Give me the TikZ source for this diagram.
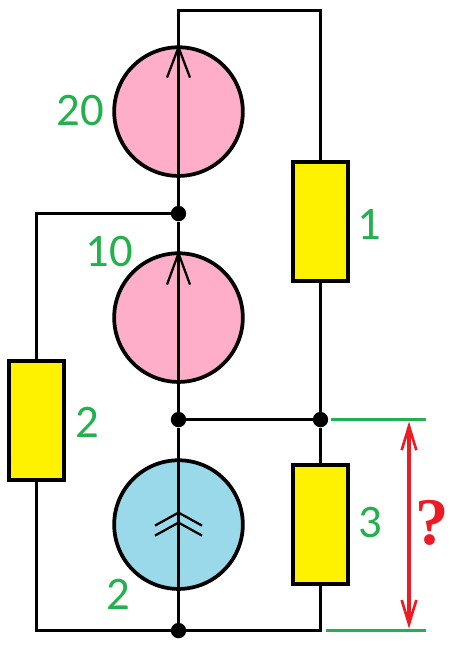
\documentclass[tikz,border=0pt]{standalone}
\usepackage{fontspec}
\setmainfont{Carlito}
\newfontfamily\qfont{Liberation Serif}
\usetikzlibrary{arrows.meta}
\definecolor{sourcepink}{RGB}{255,174,201}
\definecolor{sourceblue}{RGB}{153,217,234}
\definecolor{resyellow}{RGB}{255,242,0}
\definecolor{labelgreen}{RGB}{34,177,76}
\definecolor{askred}{RGB}{237,28,36}

\begin{document}
\begin{tikzpicture}[
    x=0.75pt, y=-0.75pt,
    wire/.style={line width=2.6pt},
    barb/.style={line width=1.7pt},
    source/.style={draw, line width=2.8pt, circle, minimum size=96.5pt, inner sep=0pt, outer sep=0pt},
    res/.style={draw, line width=2.8pt, fill=resyellow, minimum width=41.5pt, minimum height=89.5pt, inner sep=0pt, outer sep=0pt},
    dot/.style={circle, fill=black, minimum size=11.5pt, inner sep=0pt},
    val/.style={text=labelgreen, font=\fontsize{35}{35}\selectfont, inner sep=0pt}
]
    \useasboundingbox (0,-0.6) rectangle (453,647.4);

    % Sources
    \node[source, fill=sourcepink] (s1) at (178.5,111) {};
    \node[source, fill=sourcepink] (s2) at (178.5,317) {};
    \node[source, fill=sourceblue] (s3) at (178.5,524) {};

    % Resistors
    \node[res] (r1) at (320.5,221) {};
    \node[res] (r2) at (36.5,420) {};
    \node[res] (r3) at (320.5,524) {};

    % Junctions
    \node[dot] (j1) at (178.5,213) {};
    \node[dot] (j2) at (178.5,419) {};
    \node[dot] (j3) at (320.5,419) {};
    \node[dot] (j4) at (178.5,630) {};

    % Wires
    \draw[wire] (s1.north) -- (178.5,10) -| (r1.north);
    \draw[wire] (s1.north) -- (s1.south) -- (j1) -- (s2.north) -- (s2.south) -- (j2) -- (s3.north) -- (s3.south) -- (j4);
    \draw[wire] (r1.south) -- (j3) -- (r3.north);
    \draw[wire] (j2) -- (j3);
    \draw[wire] (j1) -| (r2.north);
    \draw[wire] (r2.south) |- (j4);
    \draw[wire] (r3.south) |- (j4);

    % Source arrows
    \draw[barb] (167,77) -- (s1.north) -- (190,77);
    \draw[barb] (167,284) -- (s2.north) -- (190,284);
    \draw[barb] (155,525) -- (178.5,512) -- (202,525);
    \draw[barb] (155,535) -- (178.5,522) -- (202,535);

    % Values
    \node[val] (v1) at (80,110) {20};
    \node[val] (v2) at (109,251) {10};
    \node[val] (v3) at (369,224) {1};
    \node[val] (v4) at (87,422) {2};
    \node[val] (v5) at (118,594) {2};
    \node[val] (v6) at (370,522) {3};

    % Measured voltage
    \coordinate (a1) at (331,419);
    \coordinate (a2) at (426,419);
    \coordinate (b1) at (326,630);
    \coordinate (b2) at (426,630);
    \coordinate (t1) at (409,421);
    \coordinate (t2) at (409,628);
    \draw[labelgreen, wire] (a1) -- (a2);
    \draw[labelgreen, wire] (b1) -- (b2);
    \draw[askred, wire, {Straight Barb[length=18pt,width=11pt,line width=2pt]}-{Straight Barb[length=18pt,width=11pt,line width=2pt]}] (t1) -- (t2);
    \node[text=askred, font=\qfont\bfseries\fontsize{50}{50}\selectfont, inner sep=0pt] (q) at (432,522) {?};
\end{tikzpicture}
\end{document}
